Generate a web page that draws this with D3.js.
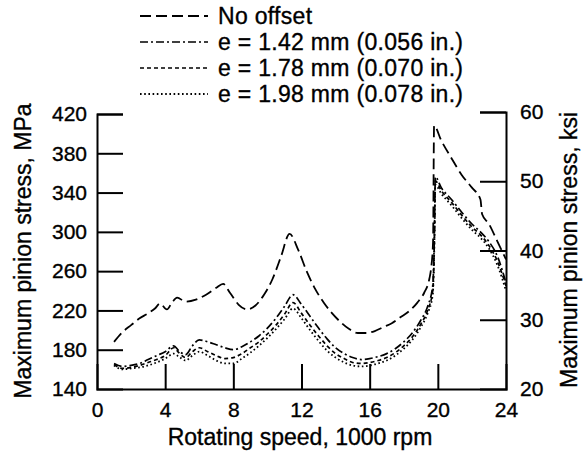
<!DOCTYPE html>
<html>
<head>
<meta charset="utf-8">
<script src="https://cdn.jsdelivr.net/npm/d3@7"></script>
<style>
  body { margin: 0; background: #fff; }
  svg { display: block; }
  text { font-family: "Liberation Sans", Arial, Helvetica, sans-serif; fill: #000; stroke: #000; stroke-width: 0.35px; }
</style>
</head>
<body>
<svg id="chart" width="584" height="457"></svg>
<script>
// ---- Data ----
const seriesNames = ["No offset", "e = 1.42 mm (0.056 in.)", "e = 1.78 mm (0.070 in.)", "e = 1.98 mm (0.078 in.)"];

const speedNoOffset = [1.0, 1.5, 2.0, 2.5, 3.0, 3.4, 3.7, 4.1, 4.4, 4.7, 5.2, 5.8, 6.4, 7.0, 7.4, 7.8, 8.3, 8.8, 9.3, 9.8, 10.3, 10.8, 11.3, 11.8, 12.3, 12.8, 13.3, 13.8, 14.3, 14.8, 15.3, 15.8, 16.3, 16.8, 17.3, 17.8, 18.3, 18.8, 19.2, 19.5, 19.6, 19.72, 19.78, 20.2, 20.8, 21.4, 22.0, 22.5, 22.6, 23.0, 23.5, 24.0];
const stressNoOffset = [188, 198, 205, 212, 217, 222, 227, 221, 228, 233, 229, 231, 236, 243, 247, 238, 226, 221, 225, 236, 252, 275, 298, 282, 260, 242, 228, 217, 208, 201, 197, 197, 199, 203, 207, 213, 219, 228, 238, 252, 262, 290, 408, 393, 375, 358, 345, 333, 318, 308, 290, 272];

const speedOffset = [1.0, 1.5, 2.0, 2.5, 3.0, 3.5, 4.0, 4.5, 4.8, 5.2, 5.6, 6.0, 6.5, 7.0, 7.5, 8.0, 8.5, 9.0, 9.5, 10.0, 10.5, 11.0, 11.5, 12.0, 12.5, 13.0, 13.5, 14.0, 14.5, 15.0, 15.5, 16.0, 16.5, 17.0, 17.5, 18.0, 18.5, 19.0, 19.4, 19.7, 19.8, 19.85, 20.2, 20.8, 21.4, 22.0, 22.5, 23.0, 23.5, 24.0];
const stressE142 = [166, 163, 164, 166, 170, 174, 178, 184, 179, 175, 184, 190, 188, 185, 182, 180, 183, 188, 194, 202, 212, 224, 236, 226, 214, 202, 191, 182, 176, 172, 170, 171, 173, 176, 181, 188, 197, 210, 224, 245, 300, 356, 345, 333, 320, 308, 300, 290, 275, 248];
const stressE178 = [165, 161, 162, 164, 167, 170, 174, 182, 177, 172, 178, 182, 178, 174, 171, 172, 176, 182, 188, 196, 205, 216, 228, 217, 205, 194, 184, 176, 171, 167, 166, 167, 169, 172, 177, 184, 193, 206, 220, 240, 295, 352, 342, 330, 317, 305, 297, 286, 270, 245];
const stressE198 = [164, 160, 161, 162, 164, 167, 171, 176, 173, 169, 174, 178, 174, 169, 166, 166, 171, 177, 184, 192, 201, 211, 222, 212, 200, 189, 179, 172, 167, 164, 163, 164, 166, 169, 174, 181, 190, 203, 217, 236, 290, 348, 339, 327, 314, 302, 294, 283, 266, 240];

const xTicks = [0, 4, 8, 12, 16, 20, 24];
const yTicksMPa = [140, 180, 220, 260, 300, 340, 380, 420];
const yTicksKsi = [20, 30, 40, 50, 60];

// ---- Layout ----
const svg = d3.select("#chart");
const x = d3.scaleLinear().domain([0, 24]).range([97, 506]);
const yL = d3.scaleLinear().domain([140, 420]).range([389, 114]);
const yR = d3.scaleLinear().domain([20, 60]).range([389, 112]);

const styles = [
  { dash: "11,5", width: 1.8 },
  { dash: "8,3,2,3", width: 1.7 },
  { dash: "4,3", width: 1.7 },
  { dash: "1.6,2.6", width: 1.8 }
];

const seriesData = [
  { name: seriesNames[0], xs: speedNoOffset, ys: stressNoOffset },
  { name: seriesNames[1], xs: speedOffset, ys: stressE142 },
  { name: seriesNames[2], xs: speedOffset, ys: stressE178 },
  { name: seriesNames[3], xs: speedOffset, ys: stressE198 }
];

const line = d3.line()
  .x(d => x(d[0]))
  .y(d => yL(d[1]))
  .curve(d3.curveMonotoneX);

seriesData.forEach((s, i) => {
  const pts = s.xs.map((v, k) => [v, s.ys[k]]);
  svg.append("path")
    .datum(pts)
    .attr("fill", "none")
    .attr("stroke", "#000")
    .attr("stroke-width", styles[i].width)
    .attr("stroke-dasharray", styles[i].dash)
    .attr("d", line);
});

// Axes
const tickFont = 21;
const gL = svg.append("g").attr("transform", `translate(${x(0)},0)`)
  .call(d3.axisLeft(yL).tickValues(yTicksMPa).tickSize(-26).tickPadding(10).tickFormat(d3.format("d")));
const gR = svg.append("g").attr("transform", `translate(${x(24)},0)`)
  .call(d3.axisRight(yR).tickValues(yTicksKsi).tickSize(-26).tickPadding(14).tickFormat(d3.format("d")));
const gB = svg.append("g").attr("transform", `translate(0,${yL(140)})`)
  .call(d3.axisBottom(x).tickValues(xTicks).tickSize(-25).tickPadding(13).tickFormat(d3.format("d")));

[gL, gR, gB].forEach(g => {
  g.select(".domain").attr("stroke", "#000").attr("stroke-width", 2);
  g.selectAll(".tick line").attr("stroke", "#000").attr("stroke-width", 2);
  g.selectAll(".tick text").attr("font-size", tickFont).attr("fill", "#000")
    .style("font-family", "'Liberation Sans', Arial, sans-serif");
});
gB.selectAll(".tick").filter(d => d === 0 || d === 24).select("line").remove();
gL.selectAll(".tick").filter(d => d === 140).select("line").remove();
gR.selectAll(".tick").filter(d => d === 20).select("line").remove();

// Axis titles
const titleFont = 23;
svg.append("text")
  .attr("x", 300).attr("y", 445)
  .attr("text-anchor", "middle").attr("font-size", titleFont)
  .text("Rotating speed, 1000 rpm");

svg.append("text")
  .attr("transform", "translate(31,251) rotate(-90)")
  .attr("text-anchor", "middle").attr("font-size", titleFont)
  .text("Maximum pinion stress, MPa");

svg.append("text")
  .attr("transform", "translate(577,250) rotate(-90)")
  .attr("text-anchor", "middle").attr("font-size", titleFont)
  .text("Maximum pinion stress, ksi");

// Legend
const legendY = [16, 42, 68, 94];
seriesData.forEach((s, i) => {
  svg.append("line")
    .attr("x1", 140).attr("x2", 208)
    .attr("y1", legendY[i]).attr("y2", legendY[i])
    .attr("stroke", "#000")
    .attr("stroke-width", styles[i].width)
    .attr("stroke-dasharray", styles[i].dash);
  svg.append("text")
    .attr("x", 218).attr("y", legendY[i])
    .attr("dy", "0.35em")
    .attr("font-size", titleFont)
    .attr("letter-spacing", 0.3)
    .text(s.name);
});
</script>
</body>
</html>
